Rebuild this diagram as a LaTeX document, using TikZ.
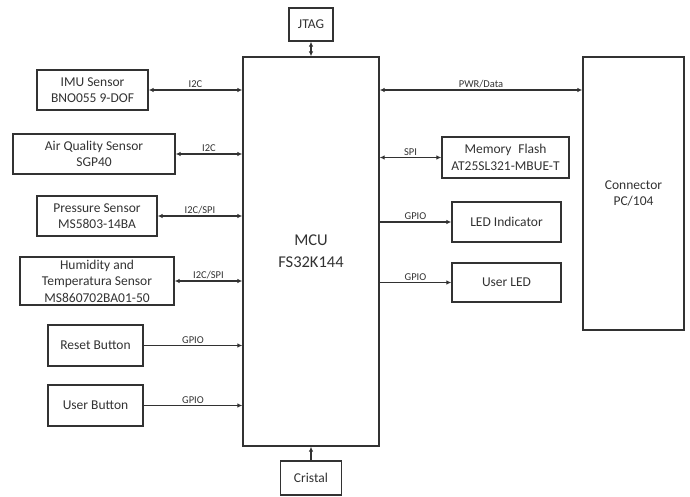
\documentclass[tikz,border=0pt]{standalone}
\usepackage{fontspec}
\setmainfont{Carlito}
\usetikzlibrary{arrows.meta,positioning}
\definecolor{inkgray}{RGB}{50,50,50}

\begin{document}
\begin{tikzpicture}[x=1pt,y=-1pt,
        box/.style={rectangle,draw=inkgray,line width=1.3pt,text=inkgray,align=center,
          inner sep=0pt,font=\fontsize{13.5}{16.5}\selectfont},
        big/.style={box,font=\fontsize{16.5}{22}\selectfont},
        bus/.style={{Latex[length=5pt,width=4.5pt]}-{Latex[length=5pt,width=4.5pt]},line width=1.2pt,draw=inkgray},
        arrow/.style={-{Latex[length=5pt,width=4.5pt]},line width=1.2pt,draw=inkgray},
        lbl/.style={midway,above,inner sep=1.5pt,text=inkgray,font=\fontsize{10.5}{12}\selectfont}]
        \useasboundingbox (0,0) rectangle (690,497);
        % core
        \node[big,minimum width=136,minimum height=389] (mcu) at (311,251.5) {MCU\\FS32K144};
        \node[box,minimum width=44,minimum height=33] (jtag) at (311,24.5) {JTAG};
        \node[box,minimum width=61,minimum height=34] (xtal) at (311,478) {Cristal};
        % sensors and buttons
        \node[box,minimum width=111,minimum height=40] (imu) at (92.5,90) {IMU Sensor\\BNO055 9-DOF};
        \node[box,minimum width=162,minimum height=40] (air) at (94,154) {Air Quality Sensor\\SGP40};
        \node[box,minimum width=120,minimum height=40] (press) at (97,216) {Pressure Sensor\\MS5803-14BA};
        \node[box,minimum width=154,minimum height=48] (hum) at (97,281) {Humidity and\\Temperatura Sensor\\MS860702BA01-50};
        \node[box,minimum width=95,minimum height=41] (rst) at (95.5,345.5) {Reset Button};
        \node[box,minimum width=95,minimum height=41] (ubtn) at (95.5,405.5) {User Button};
        % right side
        \node[big,minimum width=101,minimum height=273,font=\fontsize{13.5}{16.5}\selectfont] (conn) at (633.5,193.5) {Connector\\PC/104};
        \node[box,minimum width=127,minimum height=41] (flash) at (505.5,157.5) {Memory\enspace Flash\\AT25SL321-MBUE-T};
        \node[box,minimum width=109,minimum height=40] (led) at (506.5,222) {LED Indicator};
        \node[box,minimum width=109,minimum height=39] (uled) at (506.5,282.5) {User LED};
        % connections
        \draw[bus] (jtag) -- (mcu);
        \draw[arrow] (xtal) -- (mcu);
        \draw[bus] (imu.east) -- (imu.east -| mcu.west) node[lbl] {I2C};
        \draw[bus] (air.east) -- (air.east -| mcu.west) node[lbl] {I2C};
        \draw[bus] (press.east) -- (press.east -| mcu.west) node[lbl] {I2C/SPI};
        \draw[bus] (hum.east) -- (hum.east -| mcu.west) node[lbl] {I2C/SPI};
        \draw[arrow] (rst.east) -- (rst.east -| mcu.west) node[lbl] {GPIO};
        \draw[arrow] (ubtn.east) -- (ubtn.east -| mcu.west) node[lbl] {GPIO};
        \draw[bus] (imu.east -| mcu.east) -- (imu.east -| conn.west) node[lbl] {PWR/Data};
        \draw[bus] (flash.west -| mcu.east) -- (flash.west) node[lbl] {SPI};
        \draw[arrow] (led.west -| mcu.east) -- (led.west) node[lbl] {GPIO};
        \draw[arrow] (uled.west -| mcu.east) -- (uled.west) node[lbl] {GPIO};
      \end{tikzpicture}
\end{document}
